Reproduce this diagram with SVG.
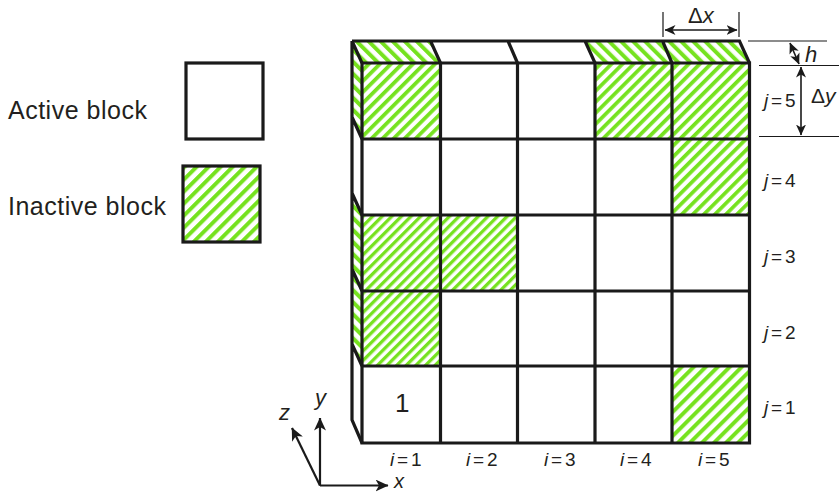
<svg xmlns="http://www.w3.org/2000/svg" width="839" height="492" viewBox="0 0 839 492">
<style>
text{font-family:"Liberation Sans",Arial,sans-serif;fill:#231f20}
.lg{font-size:25px;letter-spacing:.5px}
.lb{font-size:19px;word-spacing:-2.500px}
.dl{font-size:22px}
.it{font-style:italic}
.h9{fill:url(#p9)}
.h8{fill:url(#p8)}
.h7{fill:url(#p7)}
.h2{fill:url(#ht)}
.k{fill:none;stroke:#1a1a1a;stroke-width:3.200;stroke-linejoin:miter}
.t{fill:none;stroke:#1a1a1a;stroke-width:1.200}
.a{fill:none;stroke:#1a1a1a;stroke-width:1.600}
.ax{fill:none;stroke:#1a1a1a;stroke-width:2.200}
</style>
<defs>
<pattern id="p9" width="8.500" height="8.500" patternUnits="userSpaceOnUse" patternTransform="rotate(45)"><rect width="8.500" height="8.500" fill="#fff"/><rect width="4" height="8.500" fill="#76e21f"/></pattern>
<pattern id="p8" width="7.800" height="7.800" patternUnits="userSpaceOnUse" patternTransform="rotate(45)"><rect width="7.800" height="7.800" fill="#fff"/><rect width="3.700" height="7.800" fill="#76e21f"/></pattern>
<pattern id="p7" width="6.800" height="6.800" patternUnits="userSpaceOnUse" patternTransform="rotate(45)"><rect width="6.800" height="6.800" fill="#fff"/><rect width="3.300" height="6.800" fill="#76e21f"/></pattern>
<pattern id="ht" width="8.500" height="8.500" patternUnits="userSpaceOnUse" patternTransform="rotate(-45)"><rect width="8.500" height="8.500" fill="#fff"/><rect width="4" height="8.500" fill="#76e21f"/></pattern>
<marker id="ar" viewBox="0 0 11 10" refX="10.500" refY="5" markerWidth="11" markerHeight="10" markerUnits="userSpaceOnUse" orient="auto-start-reverse"><path d="M0 0L11 5L0 10L3 5Z" fill="#1a1a1a"/></marker>
<marker id="ab" viewBox="0 0 13 12" refX="12.500" refY="6" markerWidth="13" markerHeight="12" markerUnits="userSpaceOnUse" orient="auto"><path d="M0 0L13 6L0 12L3.500 6Z" fill="#1a1a1a"/></marker>
</defs>
<rect width="839" height="492" fill="#fff"/>

<g id="legend-active"><rect class="k" x="186" y="63" width="77" height="76"/><text class="lg" x="8" y="119">Active block</text></g>
<g id="legend-inactive"><rect class="h9" x="183" y="166" width="77" height="76"/><rect class="k" x="183" y="166" width="77" height="76"/><text class="lg" x="8" y="215">Inactive block</text></g>

<g id="fills">
<rect class="h8" x="362" y="63" width="78.500" height="76"/>
<rect class="h8" x="595" y="63" width="77" height="76"/>
<rect class="h8" x="672" y="63" width="77.500" height="76"/>
<rect class="h8" x="672" y="139" width="77.500" height="76"/>
<rect class="h7" x="362" y="215" width="78.500" height="76"/>
<rect class="h7" x="440.500" y="215" width="77" height="76"/>
<rect class="h7" x="362" y="291" width="78.500" height="75"/>
<rect class="h9" x="672" y="366" width="77.500" height="77"/>
<path class="h2" d="M352 41H430.500L440.500 63H362Z"/>
<path class="h2" d="M585 41H662.500L672 63H595Z"/>
<path class="h2" d="M662.500 41H739.500L749.500 63H672Z"/>
<path class="h2" d="M352 41L362 63V139L352 117Z"/>
<path class="h2" d="M352 193L362 215V291L352 269Z"/>
<path class="h2" d="M352 269L362 291V366L352 344Z"/>
</g>

<g id="grid">
<path class="k" d="M362 63H749.500V443H362Z"/>
<path class="k" d="M362 139H749.500M362 215H749.500M362 291H749.500M362 366H749.500"/>
<path class="k" d="M440.500 63V443M517.500 63V443M595 63V443M672 63V443"/>
<path class="k" d="M352 41H739.500L749.500 63M352 41V420L362 443M352 41L362 63M352 117L362 139M352 193L362 215M352 269L362 291M352 344L362 366M430.500 41L440.500 63M508 41L517.500 63M585 41L595 63M662.500 41L672 63"/>
</g>

<g id="connectors">
<path class="t" d="M663 12V37M739 12V37M748 41H827M759 65.500H839M759 136.500H839"/>
<path class="a" d="M665 30H737" marker-start="url(#ar)" marker-end="url(#ar)"/>
<path class="a" d="M790 43L799 64" marker-start="url(#ar)" marker-end="url(#ar)"/>
<path class="a" d="M801 67V135" marker-start="url(#ar)" marker-end="url(#ar)"/>
<path class="ax" d="M320 485.500H388" marker-end="url(#ab)"/>
<path class="ax" d="M320 485.500V418" marker-end="url(#ab)"/>
<path class="ax" d="M320 485.500L292 428" marker-end="url(#ab)"/>
</g>

<g id="labels">
<text class="dl" x="688" y="23">Δ<tspan class="it">x</tspan></text>
<text class="dl it" x="805" y="62">h</text>
<text class="dl" x="811" y="103" style="font-size:21px">Δ<tspan class="it">y</tspan></text>
<text class="lb" x="764" y="107"><tspan class="it">j</tspan> = 5</text>
<text class="lb" x="764" y="187"><tspan class="it">j</tspan> = 4</text>
<text class="lb" x="764" y="263"><tspan class="it">j</tspan> = 3</text>
<text class="lb" x="764" y="339"><tspan class="it">j</tspan> = 2</text>
<text class="lb" x="764" y="414"><tspan class="it">j</tspan> = 1</text>
<text class="lb" x="390" y="466"><tspan class="it">i</tspan> = 1</text>
<text class="lb" x="466" y="466"><tspan class="it">i</tspan> = 2</text>
<text class="lb" x="544" y="466"><tspan class="it">i</tspan> = 3</text>
<text class="lb" x="620" y="466"><tspan class="it">i</tspan> = 4</text>
<text class="lb" x="698" y="466"><tspan class="it">i</tspan> = 5</text>
<text x="395" y="412" style="font-size:26px">1</text>
<text class="dl it" x="394" y="488" style="font-size:20px">x</text>
<text class="dl it" x="315" y="405">y</text>
<text class="dl it" x="279" y="420">z</text>
</g>
</svg>
